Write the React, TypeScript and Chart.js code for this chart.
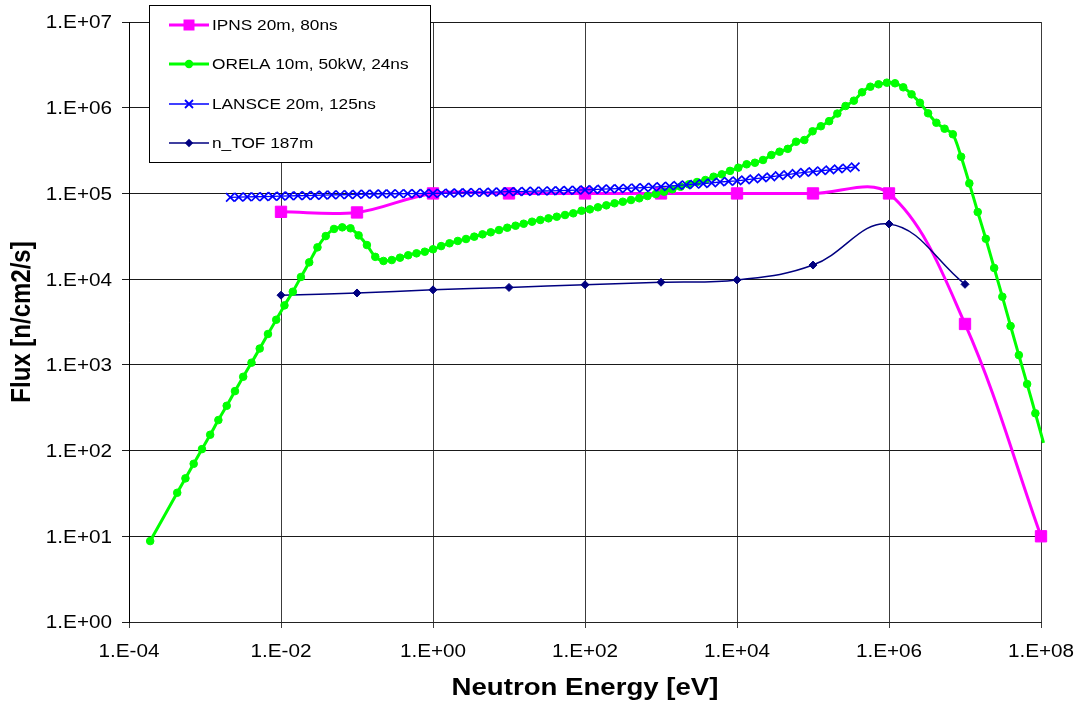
import React, { useEffect, useRef } from 'react';
import { Chart, registerables } from 'chart.js';

Chart.register(...registerables);

// ---------- data ----------
const X_TICKS = [1e-4, 1e-2, 1, 1e2, 1e4, 1e6, 1e8];
const X_TICK_LABELS = ['1.E-04', '1.E-02', '1.E+00', '1.E+02', '1.E+04', '1.E+06', '1.E+08'];
const Y_TICKS = [1, 10, 100, 1e3, 1e4, 1e5, 1e6, 1e7];
const Y_TICK_LABELS = ['1.E+00', '1.E+01', '1.E+02', '1.E+03', '1.E+04', '1.E+05', '1.E+06', '1.E+07'];

const X_TITLE = 'Neutron Energy [eV]';
const Y_TITLE = 'Flux [n/cm2/s]';

const IPNS_LABEL = 'IPNS 20m, 80ns';
const IPNS_E = [1e-2, 1e-1, 1, 10, 100, 1e3, 1e4, 1e5, 1e6, 1e7, 1e8];
const IPNS_F = [61000, 60000, 100000, 100000, 100000, 100000, 100000, 100000, 100000, 3000, 10];

const ORELA_LABEL = 'ORELA 10m, 50kW, 24ns';
const ORELA_E = [
  1.9e-4, 4.31e-4, 5.53e-4, 7.10e-4, 9.12e-4, 1.17e-3, 1.50e-3, 1.93e-3, 2.48e-3, 3.18e-3,
  4.09e-3, 5.25e-3, 6.74e-3, 8.65e-3, 1.11e-2, 1.43e-2, 1.83e-2, 2.35e-2, 3.02e-2, 3.88e-2,
  4.98e-2, 6.39e-2, 8.21e-2, 0.105, 0.135, 0.174, 0.223, 0.287, 0.368, 0.472,
  0.607, 0.779, 1, 1.28, 1.65, 2.12, 2.72, 3.49, 4.48, 5.75,
  7.39, 9.49, 12.2, 15.6, 20.1, 25.8, 33.1, 42.5, 54.6, 70.1,
  90.0, 116, 148, 191, 245, 314, 403, 518, 665, 854,
  1100, 1410, 1810, 2320, 2980, 3830, 4920, 6310, 8100, 1.04e4,
  1.34e4, 1.72e4, 2.20e4, 2.83e4, 3.63e4, 4.66e4, 5.99e4, 7.69e4, 9.87e4, 1.27e5,
  1.63e5, 2.09e5, 2.68e5, 3.45e5, 4.42e5, 5.68e5, 7.29e5, 9.37e5, 1.20e6, 1.54e6,
  1.98e6, 2.55e6, 3.27e6, 4.20e6, 5.39e6, 6.92e6, 8.89e6, 1.14e7, 1.47e7, 1.88e7,
  2.42e7, 3.10e7, 3.98e7, 5.11e7, 6.57e7, 8.43e7, 1.08e8, 1.39e8,
];
const ORELA_F = [
  8.8, 32.2, 47.4, 70.1, 104, 153, 227, 333, 494, 726,
  1060, 1550, 2290, 3360, 4940, 7130, 10600, 15700, 23500, 31800,
  38500, 40200, 39200, 32400, 25000, 18200, 16300, 16700, 17800, 19000,
  20000, 20900, 22300, 24300, 26200, 27900, 29400, 31300, 33300, 35200,
  37400, 39800, 42000, 44300, 46800, 49000, 51200, 53500, 56000, 58600,
  62800, 65200, 68900, 72600, 76700, 80000, 83800, 87700, 93300, 98400,
  104700, 111700, 119700, 127600, 135800, 143200, 156700, 167100, 183200, 199500,
  218800, 228000, 245500, 280500, 306900, 331100, 400900, 419800, 530900, 608100,
  696600, 855100, 1047000, 1208000, 1514000, 1758000, 1875000, 1959000, 1928000, 1730000,
  1432000, 1143000, 861000, 668000, 569000, 490000, 268000, 131000, 60700, 29600,
  13500, 6240, 2840, 1300, 597, 272, 123, 56,
];

const LANSCE_LABEL = 'LANSCE 20m, 125ns';
const LANSCE_E = [
  2.154e-3, 2.783e-3, 3.594e-3, 4.642e-3, 5.995e-3, 7.743e-3,
  1e-2, 1.292e-2, 1.668e-2, 2.154e-2, 2.783e-2, 3.594e-2, 4.642e-2, 5.995e-2, 7.743e-2,
  0.1, 0.1292, 0.1668, 0.2154, 0.2783, 0.3594, 0.4642, 0.5995, 0.7743,
  1, 1.292, 1.668, 2.154, 2.783, 3.594, 4.642, 5.995, 7.743,
  10, 12.92, 16.68, 21.54, 27.83, 35.94, 46.42, 59.95, 77.43,
  100, 129.2, 166.8, 215.4, 278.3, 359.4, 464.2, 599.5, 774.3,
  1000, 1292, 1668, 2154, 2783, 3594, 4642, 5995, 7743,
  1e4, 1.292e4, 1.668e4, 2.154e4, 2.783e4, 3.594e4, 4.642e4, 5.995e4, 7.743e4,
  1e5, 1.292e5, 1.668e5, 2.154e5, 2.783e5, 3.594e5,
];
const LANSCE_F = [
  90000, 90500, 91000, 91500, 92000, 92500,
  93000, 93500, 94000, 94500, 95000, 95500, 96000, 96500, 97000,
  97500, 98000, 98300, 98600, 99000, 99200, 99500, 99700, 99900,
  100000, 100500, 101000, 101500, 102000, 102500, 103000, 103500, 104000,
  104700, 105200, 105700, 106200, 106700, 107300, 108000, 108700, 109300,
  110000, 111000, 112000, 113000, 114000, 115000, 116000, 117000, 118500,
  120000, 122000, 124000, 126000, 128000, 130000, 133000, 136000, 138000,
  140000, 144000, 148000, 152000, 156000, 161000, 166000, 171000, 176000,
  180000, 184000, 188000, 193000, 198000, 204000,
];

const NTOF_LABEL = 'n_TOF 187m';
const NTOF_E = [1e-2, 1e-1, 1, 10, 100, 1e3, 1e4, 1e5, 1e6, 1e7];
const NTOF_F = [6500, 6900, 7500, 8000, 8600, 9200, 9800, 14600, 44000, 8700];

const IPNS_COLOR = '#FF00FF';
const ORELA_COLOR = '#00FF00';
const LANSCE_COLOR = '#0000FF';
const NTOF_COLOR = '#000080';

// ---------- drawing helpers ----------
const FONT = '"Liberation Sans", Arial, Helvetica, sans-serif';
const HSCALE = 1.15;

function stretchedText(
  ctx: CanvasRenderingContext2D,
  text: string,
  x: number,
  y: number,
  font: string,
  align: CanvasTextAlign,
  rotate = false,
) {
  ctx.save();
  ctx.font = font;
  ctx.fillStyle = '#000';
  ctx.textAlign = align;
  ctx.textBaseline = 'alphabetic';
  ctx.translate(x, y);
  ctx.scale(HSCALE, 1);
  if (rotate) ctx.rotate(-Math.PI / 2);
  ctx.fillText(text, 0, 0);
  ctx.restore();
}

function drawMarker(ctx: CanvasRenderingContext2D, kind: string, x: number, y: number, color: string) {
  ctx.save();
  ctx.fillStyle = color;
  ctx.strokeStyle = color;
  ctx.beginPath();
  if (kind === 'rect') {
    ctx.rect(x - 5.5, y - 5.5, 11, 11);
    ctx.fill();
  } else if (kind === 'circle') {
    ctx.arc(x, y, 4.2, 0, Math.PI * 2);
    ctx.fill();
  } else if (kind === 'crossRot') {
    ctx.lineWidth = 1.8;
    ctx.moveTo(x - 4, y - 4);
    ctx.lineTo(x + 4, y + 4);
    ctx.moveTo(x - 4, y + 4);
    ctx.lineTo(x + 4, y - 4);
    ctx.stroke();
  } else if (kind === 'rectRot') {
    ctx.moveTo(x, y - 4.2);
    ctx.lineTo(x + 4.2, y);
    ctx.lineTo(x, y + 4.2);
    ctx.lineTo(x - 4.2, y);
    ctx.closePath();
    ctx.fill();
  }
  ctx.restore();
}

const LEGEND_ITEMS = [
  { label: IPNS_LABEL, color: IPNS_COLOR, width: 3, marker: 'rect' },
  { label: ORELA_LABEL, color: ORELA_COLOR, width: 3, marker: 'circle' },
  { label: LANSCE_LABEL, color: LANSCE_COLOR, width: 1.5, marker: 'crossRot' },
  { label: NTOF_LABEL, color: NTOF_COLOR, width: 1.5, marker: 'rectRot' },
];
const LEGEND_ROWS = [25, 64, 104, 143];

const textPlugin = {
  id: 'excelText',
  afterDraw(chart: any) {
    const ctx: CanvasRenderingContext2D = chart.ctx;
    const xs = chart.scales.x;
    const ys = chart.scales.y;
    const area = chart.chartArea;

    X_TICKS.forEach((v, i) => {
      stretchedText(ctx, X_TICK_LABELS[i], xs.getPixelForValue(v), 657, `18px ${FONT}`, 'center');
    });
    Y_TICKS.forEach((v, i) => {
      stretchedText(ctx, Y_TICK_LABELS[i], 112, ys.getPixelForValue(v) + 6.4, `18px ${FONT}`, 'right');
    });
    stretchedText(ctx, X_TITLE, (area.left + area.right) / 2, 695, `bold 24px ${FONT}`, 'center');
    stretchedText(ctx, Y_TITLE, 30, (area.top + area.bottom) / 2, `bold 24px ${FONT}`, 'center', true);

    // legend
    ctx.save();
    ctx.fillStyle = '#fff';
    ctx.fillRect(150, 6, 280, 156);
    ctx.strokeStyle = '#000';
    ctx.lineWidth = 1;
    ctx.strokeRect(149.5, 5.5, 281, 157);
    ctx.restore();
    LEGEND_ITEMS.forEach((it, i) => {
      const y = LEGEND_ROWS[i];
      ctx.save();
      ctx.strokeStyle = it.color;
      ctx.lineWidth = it.width;
      ctx.beginPath();
      ctx.moveTo(169, y);
      ctx.lineTo(209, y);
      ctx.stroke();
      ctx.restore();
      drawMarker(ctx, it.marker, 189, y, it.color);
      stretchedText(ctx, it.label, 212, y + 5.4, `15px ${FONT}`, 'left');
    });
  },
};

function toPoints(xs: number[], ys: number[]) {
  return xs.map((x, i) => ({ x, y: ys[i] }));
}

export default function App() {
  const canvasRef = useRef<HTMLCanvasElement | null>(null);

  useEffect(() => {
    const canvas = canvasRef.current;
    if (!canvas) return;
    const chart = new Chart(canvas, {
      type: 'line',
      data: {
        datasets: [
          {
            label: IPNS_LABEL,
            data: toPoints(IPNS_E, IPNS_F),
            borderColor: IPNS_COLOR,
            backgroundColor: IPNS_COLOR,
            borderWidth: 3,
            pointStyle: 'rect',
            pointRadius: 8,
            pointBorderWidth: 1,
            tension: 0.35,
            order: 4,
            clip: 12,
          },
          {
            label: ORELA_LABEL,
            data: toPoints(ORELA_E, ORELA_F),
            borderColor: ORELA_COLOR,
            backgroundColor: ORELA_COLOR,
            borderWidth: 3,
            pointStyle: 'circle',
            pointRadius: (c: any) => (c.raw && c.raw.x > 1.01e8 ? 0 : 3.8),
            pointBorderWidth: 1,
            tension: 0.3,
            order: 2,
            clip: { left: 10, top: 10, right: 7, bottom: 10 },
          },
          {
            label: LANSCE_LABEL,
            data: toPoints(LANSCE_E, LANSCE_F),
            borderColor: LANSCE_COLOR,
            backgroundColor: LANSCE_COLOR,
            borderWidth: 1.3,
            pointStyle: 'crossRot',
            pointRadius: 6,
            pointBorderWidth: 1.7,
            tension: 0,
            order: 1,
          },
          {
            label: NTOF_LABEL,
            data: toPoints(NTOF_E, NTOF_F),
            borderColor: NTOF_COLOR,
            backgroundColor: NTOF_COLOR,
            borderWidth: 1.5,
            pointStyle: 'rectRot',
            pointRadius: 4,
            pointBorderWidth: 1,
            tension: 0.4,
            order: 3,
            clip: 10,
          },
        ] as any,
      },
      options: {
        animation: false,
        responsive: false,
        events: [],
        layout: { padding: { top: 22, right: 35, bottom: 0, left: 0 } },
        plugins: {
          legend: { display: false },
          tooltip: { enabled: false },
        },
        scales: {
          x: {
            type: 'logarithmic',
            min: 1e-4,
            max: 1e8,
            afterBuildTicks: (scale: any) => {
              scale.ticks = X_TICKS.map((value) => ({ value }));
            },
            afterFit: (scale: any) => {
              scale.height = 80;
            },
            ticks: { display: false },
            grid: { color: '#3c3c3c', lineWidth: 1, tickLength: 6, drawTicks: true },
            border: { color: '#222', width: 1 },
          },
          y: {
            type: 'logarithmic',
            min: 1,
            max: 1e7,
            afterBuildTicks: (scale: any) => {
              scale.ticks = Y_TICKS.map((value) => ({ value }));
            },
            afterFit: (scale: any) => {
              scale.width = 129;
            },
            ticks: { display: false },
            grid: { color: '#1a1a1a', lineWidth: 1, tickLength: 7, drawTicks: true },
            border: { color: '#000', width: 1 },
          },
        },
      } as any,
      plugins: [textPlugin],
    });
    return () => chart.destroy();
  }, []);

  return (
    <div style={{ position: 'fixed', left: 0, top: 0, width: 1076, height: 702, background: '#fff' }}>
      <canvas ref={canvasRef} width={1076} height={702} style={{ display: 'block' }} />
    </div>
  );
}
